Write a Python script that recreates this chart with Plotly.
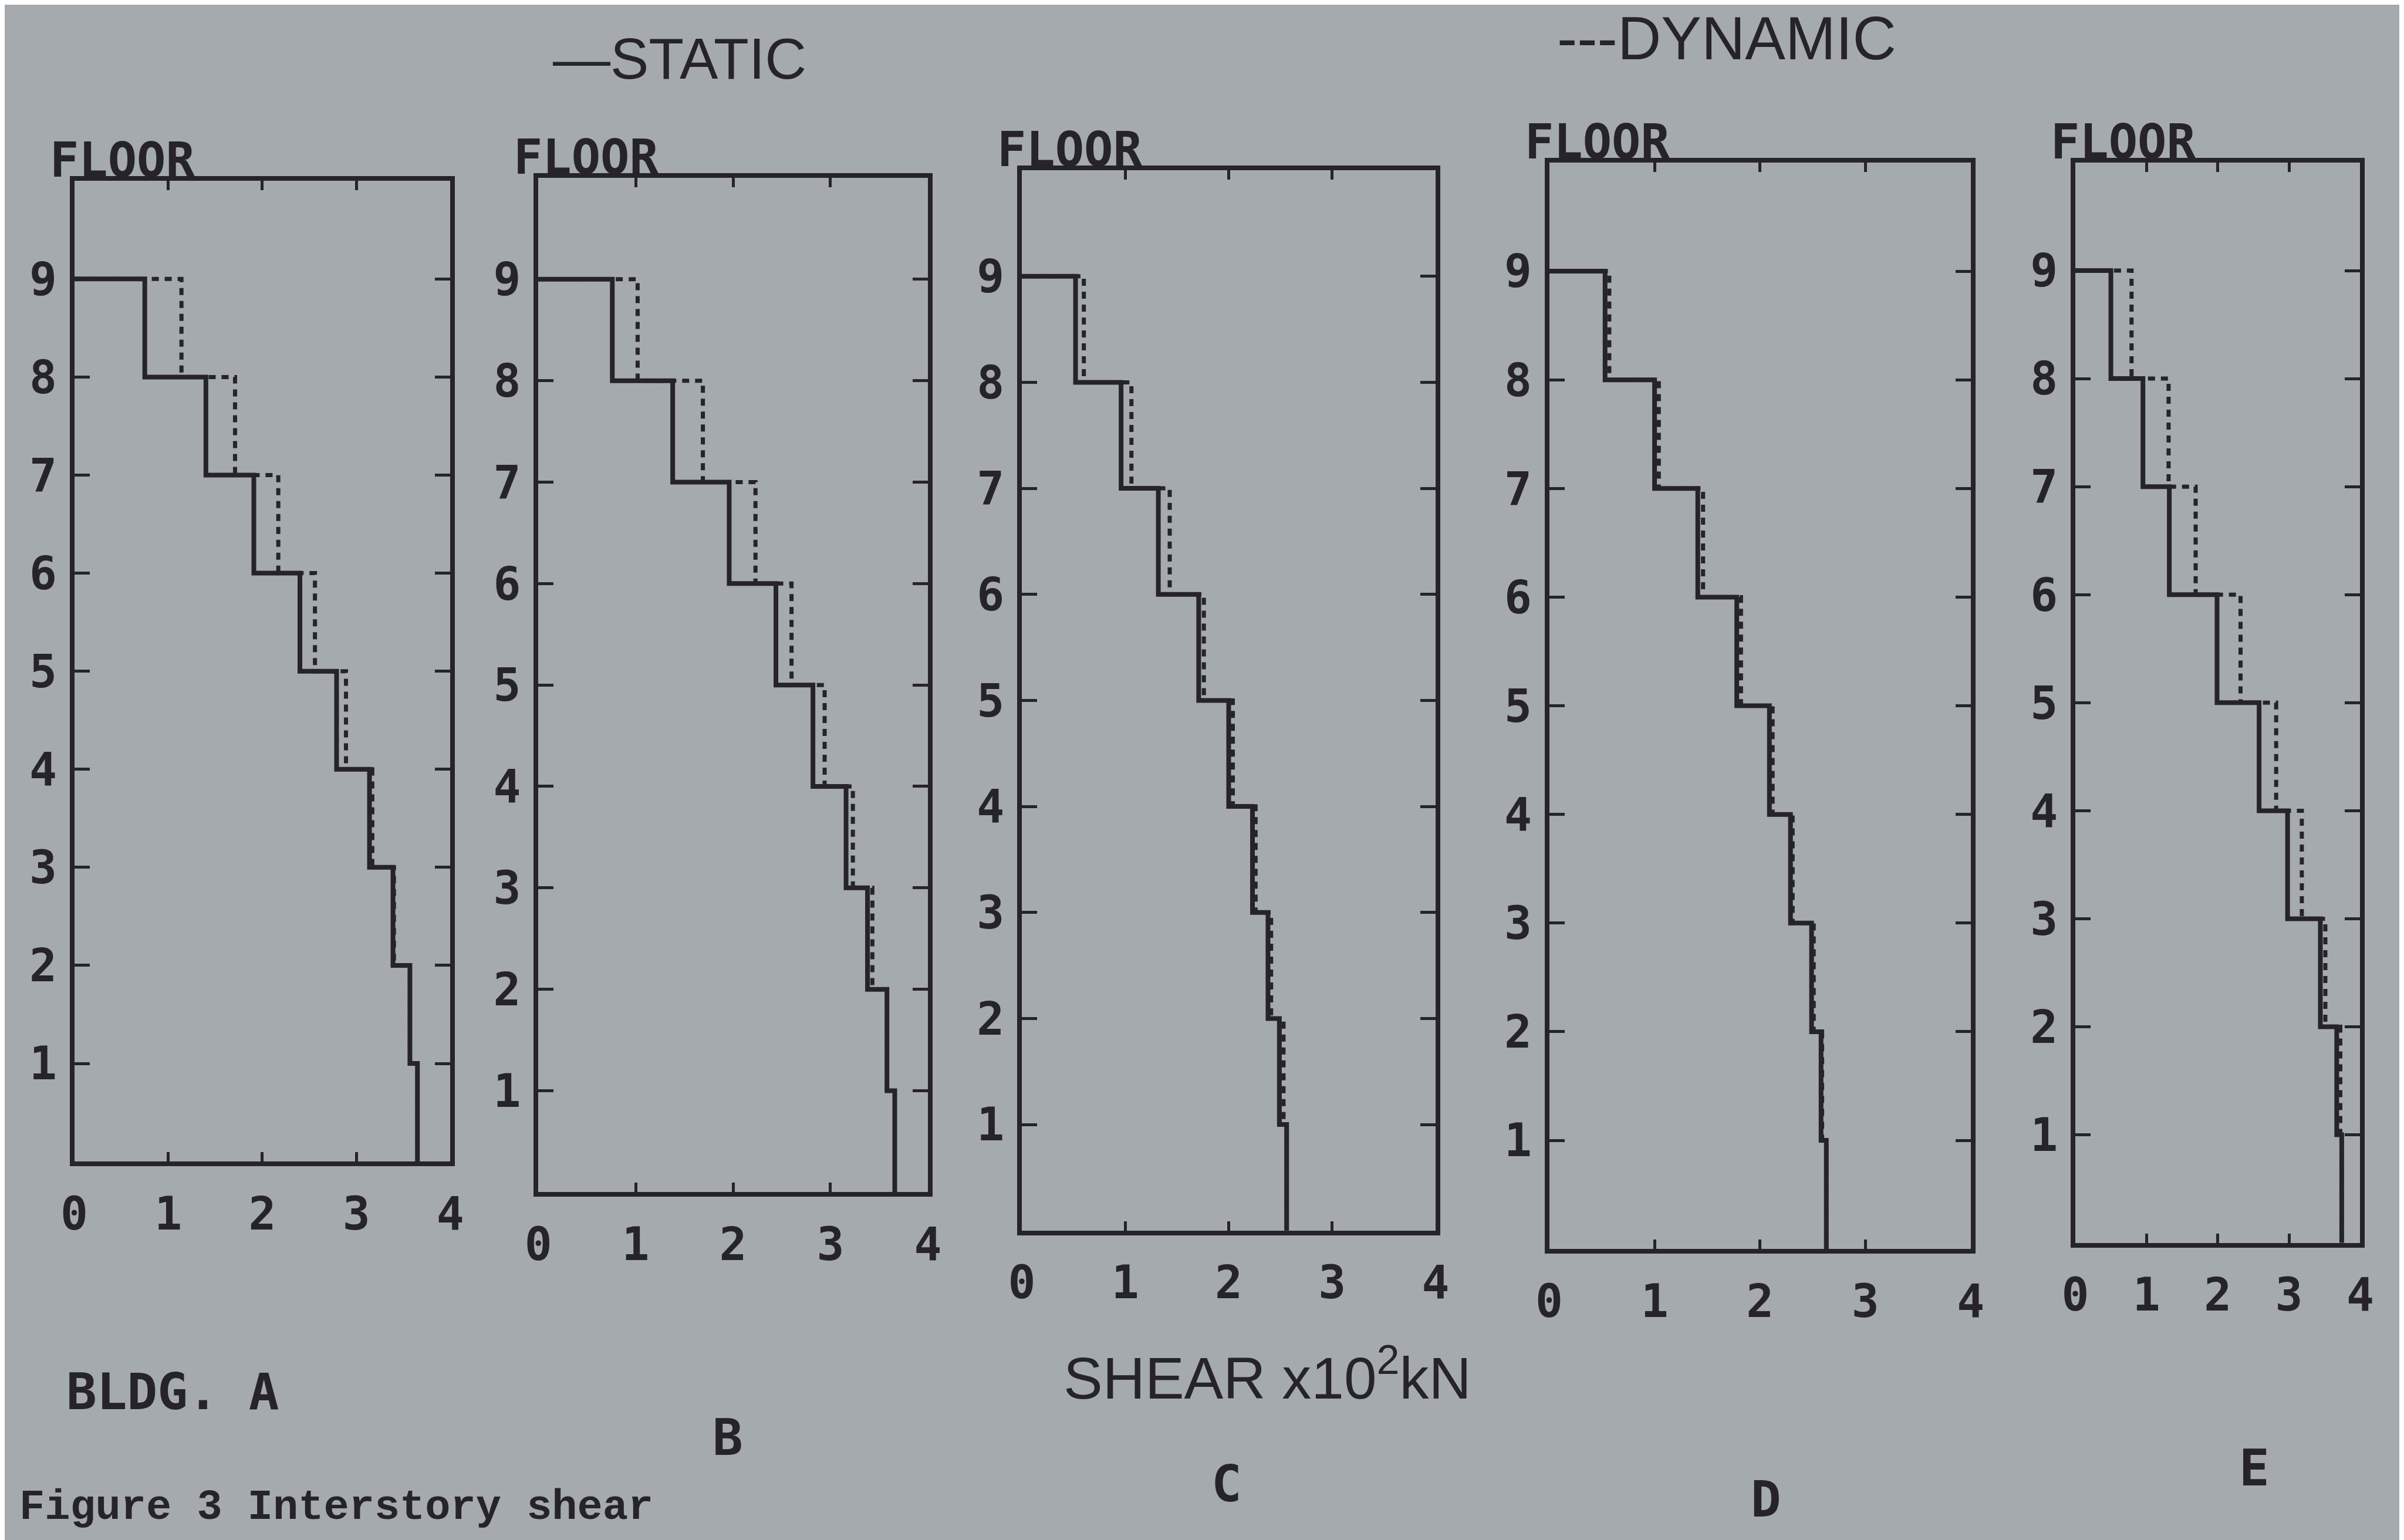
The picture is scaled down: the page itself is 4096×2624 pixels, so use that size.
import plotly.graph_objects as go

# ---------------- data ----------------
panels = ["A", "B", "C", "D", "E"]
panel_labels = ["BLDG. A", "B", "C", "D", "E"]
floors = [9, 8, 7, 6, 5, 4, 3, 2, 1, 0]          # floor levels (top to bottom)
x_ticks = [0, 1, 2, 3, 4]
y_ticks = [1, 2, 3, 4, 5, 6, 7, 8, 9]
y_tick_text = ["1", "2", "3", "4", "5", "6", "7", "8", "9"]

# interstory shear (x10^2 kN) for stories 9-8, 8-7, ..., 1-0
static_A = [0.75, 1.40, 1.91, 2.40, 2.79, 3.14, 3.39, 3.57, 3.65]
dynamic_A = [1.14, 1.71, 2.17, 2.56, 2.89, 3.17, 3.40, 3.57, 3.65]
static_B = [0.76, 1.38, 1.96, 2.44, 2.82, 3.16, 3.38, 3.58, 3.66]
dynamic_B = [1.02, 1.69, 2.23, 2.60, 2.94, 3.23, 3.43, 3.58, 3.66]
static_C = [0.52, 0.96, 1.32, 1.71, 2.00, 2.23, 2.38, 2.49, 2.56]
dynamic_C = [0.60, 1.06, 1.43, 1.76, 2.04, 2.26, 2.41, 2.53, 2.56]
static_D = [0.53, 1.00, 1.41, 1.78, 2.09, 2.29, 2.49, 2.58, 2.63]
dynamic_D = [0.57, 1.04, 1.46, 1.82, 2.12, 2.31, 2.51, 2.59, 2.63]
static_E = [0.50, 0.95, 1.32, 1.99, 2.58, 2.98, 3.44, 3.67, 3.74]
dynamic_E = [0.79, 1.31, 1.69, 2.32, 2.82, 3.18, 3.51, 3.72, 3.74]

static_all = [static_A, static_B, static_C, static_D, static_E]
dynamic_all = [dynamic_A, dynamic_B, dynamic_C, dynamic_D, dynamic_E]

# ---------------- style ----------------
BG = "#a5aaae"
INK = "#26232b"
x_domains = [[0.0236, 0.1818], [0.2188, 0.3827], [0.4222, 0.5963],
             [0.6441, 0.8214], [0.8654, 0.9853]]
y_domains = [[0.2488, 0.8856], [0.2289, 0.8876], [0.2040, 0.8925],
             [0.1920, 0.8975], [0.1960, 0.8975]]
label_pos = [(0.065, 0.0995), (0.2985, 0.0697), (0.5083, 0.0398),
             (0.7353, 0.0299), (0.9407, 0.0498)]

MONO = "DejaVu Sans Mono"
SANS = "Liberation Sans, Arial, sans-serif"

fig = go.Figure()
layout = dict(
    width=4096, height=2624,
    margin=dict(l=0, r=0, t=0, b=0),
    paper_bgcolor=BG, plot_bgcolor=BG,
    showlegend=False,
)

annotations = []
for i, p in enumerate(panels):
    k = "" if i == 0 else str(i + 1)
    xa, ya = "x" + k, "y" + k
    xs = [0] + static_all[i]
    xd = [0] + dynamic_all[i]
    fig.add_trace(go.Scatter(
        x=xd, y=floors, mode="lines", line_shape="hv",
        line=dict(color=INK, width=7, dash="12px,10px"),
        name="DYNAMIC", xaxis=xa, yaxis=ya))
    fig.add_trace(go.Scatter(
        x=xs, y=floors, mode="lines", line_shape="hv",
        line=dict(color=INK, width=8),
        name="STATIC", xaxis=xa, yaxis=ya))

    layout["xaxis" + k] = dict(
        domain=x_domains[i], anchor=ya, range=[0, 4],
        tickvals=x_ticks, ticktext=[str(v) for v in x_ticks],
        ticks="inside", ticklen=16, tickwidth=5, tickcolor=INK,
        showline=True, linewidth=8, linecolor=INK, mirror="ticks",
        showgrid=False, zeroline=False, ticklabelstandoff=14,
        tickfont=dict(family=MONO, size=78, color=INK, weight="bold"),
    )
    layout["yaxis" + k] = dict(
        domain=y_domains[i], anchor=xa, range=[0, 10],
        tickvals=y_ticks, ticktext=y_tick_text,
        ticks="inside", ticklen=26, tickwidth=5, tickcolor=INK,
        showline=True, linewidth=8, linecolor=INK, mirror="ticks",
        showgrid=False, zeroline=False, ticklabelstandoff=6,
        tickfont=dict(family=MONO, size=78, color=INK, weight="bold"),
    )
    annotations.append(dict(
        text="FLOOR", xref=xa + " domain", yref=ya + " domain",
        x=0, y=1, xanchor="left", yanchor="bottom", xshift=-44, yshift=-14,
        showarrow=False, font=dict(family=MONO, size=82, color=INK, weight="bold")))
    lx, ly = label_pos[i]
    annotations.append(dict(
        text=panel_labels[i], xref="paper", yref="paper", x=lx, y=ly,
        xanchor="center", yanchor="middle", showarrow=False,
        font=dict(family=MONO, size=86, color=INK, weight="bold")))

annotations += [
    dict(text="\u2014STATIC", xref="paper", yref="paper", x=0.2245, y=0.965,
         xanchor="left", yanchor="middle", showarrow=False,
         font=dict(family=SANS, size=98, color=INK)),
    dict(text="---DYNAMIC", xref="paper", yref="paper", x=0.647, y=0.978,
         xanchor="left", yanchor="middle", showarrow=False,
         font=dict(family=SANS, size=103, color=INK)),
    dict(text="SHEAR x10<sup>2</sup>kN", xref="paper", yref="paper",
         x=0.5255, y=0.111, xanchor="center", yanchor="middle", showarrow=False,
         font=dict(family=SANS, size=100, color=INK)),
    dict(text="Figure 3 Interstory shear", xref="paper", yref="paper",
         x=0.0, y=0.024, xanchor="left", yanchor="middle", showarrow=False,
         font=dict(family="Liberation Mono", size=72, color=INK, weight="bold")),
]
layout["annotations"] = annotations
fig.update_layout(**layout)
fig.write_html("out.html")
